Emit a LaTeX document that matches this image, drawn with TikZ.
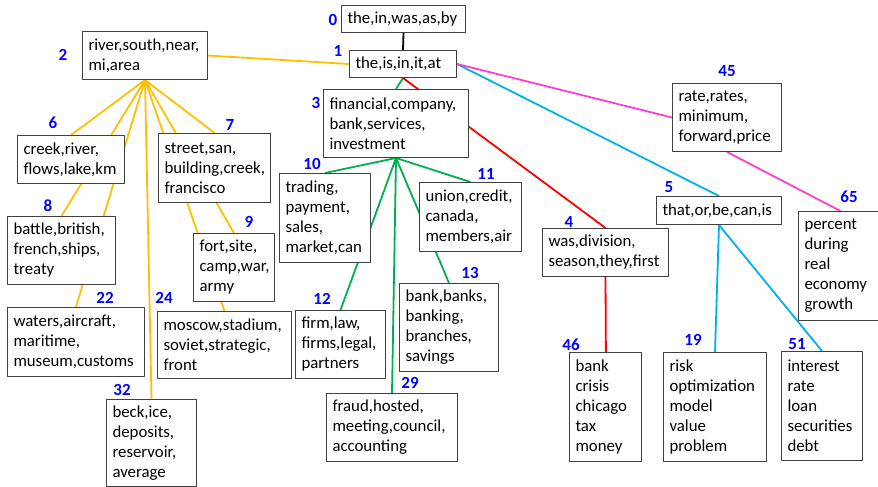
\documentclass[tikz,border=0pt]{standalone}
\usepackage{fontspec}
\setmainfont{Carlito}
\usetikzlibrary{backgrounds}
\definecolor{gold}{HTML}{FFC000}
\definecolor{leaf}{HTML}{00B050}
\definecolor{sky}{HTML}{00B0F0}
\definecolor{rose}{HTML}{FF3FCC}
\definecolor{scarlet}{HTML}{FF0000}
\definecolor{numblue}{HTML}{0000FF}
\hyphenpenalty=10000
% box from (x1,y1) to (x2,y2), pixel-like units
\newcommand\topic[6]{%
  \pgfmathsetmacro\tw{#4-#2-12}\pgfmathsetmacro\th{#5-#3}%
  \node[topic,text width=\tw pt,minimum height=\th pt] (#1) at (#2,#3) {#6};}
\begin{document}
\begin{tikzpicture}[x=1pt,y=-1pt,line join=round,line cap=round,
  topic/.style={draw=black!75,line width=1pt,fill=white,anchor=north west,align=left,inner xsep=6pt,inner ysep=1pt,font=\fontsize{16.8}{20}\selectfont},
  num/.style={text=numblue,font=\fontsize{17}{20}\selectfont\bfseries},
  link/.style={line width=1.8pt}]
\useasboundingbox (0,0) rectangle (878,487);
\topic{n0}{341}{5}{465}{32}{the,in,was,as,by}
\topic{n1}{349}{50}{456}{77}{the,is,in,it,at}
\topic{n2}{82}{31}{207}{79}{river,south,near,\\mi,area}
\topic{n3}{323}{89}{468}{157}{financial,company,\\bank,services,\\investment}
\topic{n4}{542}{228}{668}{276}{was,division,\\season,they,first}
\topic{n5}{656}{196}{781}{224}{that,or,be,can,is}
\topic{n45}{672}{83}{781}{151}{rate,rates,\\minimum,\\forward,price}
\topic{n6}{17}{135}{124}{183}{creek,river,\\flows,lake,km}
\topic{n7}{158}{133}{270}{202}{street,san,\\building,creek,\\francisco}
\topic{n8}{7}{216}{115}{284}{battle,british,\\french,ships,\\treaty}
\topic{n9}{193}{233}{274}{301}{fort,site,\\camp,war,\\army}
\topic{n10}{279}{173}{370}{262}{trading,\\payment,\\sales,\\market,can}
\topic{n11}{419}{182}{521}{251}{union,credit,\\canada,\\members,air}
\topic{n12}{295}{310}{385}{378}{firm,law,\\firms,legal,\\partners}
\topic{n13}{399}{283}{498}{371}{bank,banks,\\banking,\\branches,\\savings}
\topic{n22}{7}{307}{144}{376}{waters,aircraft,\\maritime,\\museum,customs}
\topic{n24}{157}{311}{291}{378}{moscow,stadium,\\soviet,strategic,\\front}
\topic{n29}{326}{393}{457}{461}{fraud,hosted,\\meeting,council,\\accounting}
\topic{n32}{106}{399}{196}{486}{beck,ice,\\deposits,\\reservoir,\\average}
\topic{n46}{569}{352}{641}{461}{bank\\crisis\\chicago\\tax\\money}
\topic{n19}{663}{352}{766}{461}{risk\\optimization\\model\\value\\problem}
\topic{n51}{781}{351}{862}{460}{interest\\rate\\loan\\securities\\debt}
\topic{n65}{798}{211}{882}{320}{percent\\during\\real\\economy\\growth}
\node[num] (l0) at (333,20) {0};
\node[num] (l1) at (338,51) {1};
\node[num] (l2) at (63,55) {2};
\node[num] (l3) at (316,103) {3};
\node[num] (l4) at (569,222) {4};
\node[num] (l5) at (669,187) {5};
\node[num] (l6) at (53,123) {6};
\node[num] (l7) at (230,125) {7};
\node[num] (l8) at (48,206) {8};
\node[num] (l9) at (249,222) {9};
\node[num] (l10) at (312,164) {10};
\node[num] (l11) at (486,174) {11};
\node[num] (l12) at (322,299) {12};
\node[num] (l13) at (470,273) {13};
\node[num] (l19) at (693,340) {19};
\node[num] (l22) at (105,298) {22};
\node[num] (l24) at (164,298) {24};
\node[num] (l29) at (410,383) {29};
\node[num] (l32) at (122,390) {32};
\node[num] (l45) at (727,71) {45};
\node[num] (l46) at (571,345) {46};
\node[num] (l51) at (797,344) {51};
\node[num] (l65) at (849,197) {65};
\begin{scope}[on background layer]
\draw[link,black] (n0.south)--(n1.north);
\draw[link,gold] (n1.west)--(n2.east);
\foreach \c in {6,7,8,9,22,24,32} \draw[link,gold] (n2.south)--(n\c.north);
\draw[link,leaf] (n1.south)--(n3.north);
\foreach \c in {10,11,12,13,29} \draw[link,leaf] (n3.south)--(n\c.north);
\draw[link,scarlet] (n1.south)--(n4.north);
\draw[link,scarlet] (n4.south)--([xshift=0.4pt]n46.north);
\draw[link,sky] (n1.east)--(n5.north);
\draw[link,sky] (n5.south)--(n19.north);
\draw[link,sky] (n5.south)--(n51.north);
\draw[link,rose] (n1.east)--(n45.west);
\draw[link,rose] (n45.south)--(n65.north);
\end{scope}
\end{tikzpicture}
\end{document}
